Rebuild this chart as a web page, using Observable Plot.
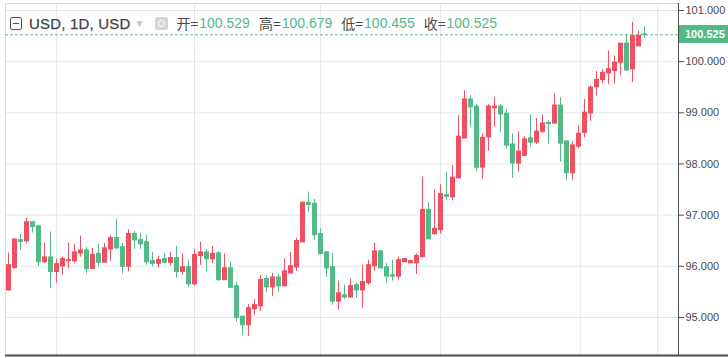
<!DOCTYPE html>
<html>
<head>
<meta charset="utf-8">
<script src="https://cdn.jsdelivr.net/npm/d3@7"></script>
<script src="https://cdn.jsdelivr.net/npm/@observablehq/plot@0.6"></script>
<style>
  html, body { margin: 0; padding: 0; background: #fff; }
  #wrap { position: relative; width: 728px; height: 358px; overflow: hidden; }
  #legend { position: absolute; left: 10px; top: 14px; height: 18px; display: flex; align-items: center;
    font-family: "Liberation Sans", Arial, sans-serif; font-size: 14px; color: #4a4a4a; white-space: nowrap; }
  #legend .box { display: inline-block; width: 10px; height: 11px; border: 1px solid #555; border-radius: 2px; position: relative; }
  #legend .box::after { content: ""; position: absolute; left: 2px; right: 2px; top: 5px; height: 1px; background: #555; }
  #legend .ttl { font-size: 15px; color: #3f3f3f; margin-left: 7px; letter-spacing: 0.2px; -webkit-text-stroke: 0.25px #3f3f3f; }
  #legend .tri { color: #c8c8c8; font-size: 10px; margin-left: 4px; }
  #legend .cam { display: inline-block; width: 13px; height: 13px; background: #d6d6d6; border-radius: 2px; margin-left: 10px; position: relative; }
  #legend .cam::after { content: ""; position: absolute; left: 3px; top: 3px; width: 5px; height: 5px; border: 1px solid #fff; border-radius: 50%; }
  #legend .lab { margin-left: 9px; font-family: "Noto Sans CJK SC", sans-serif; font-size: 14px; color: #4a4a4a; }
  #legend .val { color: #53b987; margin-left: 1px; }
  #tag { position: absolute; left: 679px; width: 49px; height: 18px; background: #53b987; color: #fff;
    font-family: "Liberation Sans", Arial, sans-serif; font-weight: bold; font-size: 11px; line-height: 18px; text-indent: 6px; }
</style>
</head>
<body>
<div id="wrap"></div>
<script>
// Daily candles (index = trading day)
const opens = [95.53,95.97,96.51,96.49,96.86,96.78,96.08,96.17,95.89,96.00,96.10,96.10,96.25,96.31,95.95,96.24,96.07,96.33,96.55,96.37,
  95.99,96.63,96.51,96.47,96.10,96.05,96.14,96.07,96.16,95.89,95.98,95.65,96.20,96.27,96.14,96.25,95.73,95.96,95.61,95.01,
  94.85,95.16,95.22,95.75,95.59,95.78,95.61,95.86,95.98,96.47,97.24,97.22,96.63,96.27,95.98,95.31,95.43,95.39,95.63,95.53,
  95.67,96.00,96.29,95.98,95.82,95.80,96.08,96.06,96.06,96.18,97.10,96.63,96.71,97.39,97.35,97.72,98.50,99.26,99.12,97.93,
  98.52,99.09,99.12,98.98,98.38,98.01,98.16,98.50,98.42,98.63,98.80,98.79,99.14,98.44,97.82,98.34,98.61,98.99,99.50,99.64,
  99.77,99.82,99.98,100.35,99.85,100.30,100.529];
const highs = [96.26,96.54,96.63,96.94,96.86,96.80,96.45,96.67,96.14,96.18,96.45,96.43,96.59,96.37,96.35,96.43,96.45,96.59,96.92,96.45,
  96.71,96.69,96.65,96.61,96.27,96.20,96.25,96.27,96.39,96.24,96.12,96.33,96.47,96.33,96.39,96.29,96.24,96.08,95.69,95.03,
  95.25,95.35,95.82,95.81,95.86,95.84,96.14,96.27,96.55,97.25,97.45,97.31,96.73,96.29,96.25,95.71,95.63,95.75,95.67,96.02,
  96.12,96.45,96.31,96.06,96.12,96.18,96.14,96.10,96.24,97.74,97.24,97.49,97.59,97.83,97.97,98.94,99.43,99.34,99.17,98.59,
  99.16,99.30,99.16,99.07,98.59,98.63,98.53,98.96,98.89,98.96,98.85,99.37,99.30,98.44,98.44,98.75,99.26,99.53,99.81,99.85,
  100.21,100.11,100.35,100.53,100.77,100.60,100.679];
const lows = [95.51,95.94,96.31,96.44,96.65,95.99,96.06,95.56,95.67,95.83,95.95,96.05,96.18,95.85,95.95,95.99,96.07,96.10,96.33,95.85,
  95.89,96.33,96.33,96.02,95.99,95.97,96.05,96.01,95.77,95.83,95.58,95.61,96.02,95.89,96.05,95.71,95.73,95.58,94.91,94.65,
  94.63,95.04,95.12,95.49,95.41,95.49,95.61,95.86,95.90,96.47,97.06,96.51,96.24,95.78,95.24,95.14,95.35,95.39,95.37,95.18,
  95.63,95.90,95.96,95.67,95.71,95.73,96.08,96.06,95.84,96.16,96.53,96.61,96.63,97.28,97.28,97.72,98.50,98.72,97.85,97.70,
  98.25,98.72,98.62,98.29,97.72,97.84,98.15,98.33,98.38,98.60,98.39,98.79,98.03,97.68,97.68,98.30,98.51,98.83,99.33,99.57,
  99.55,99.56,99.72,99.83,99.59,100.30,100.455];
const closes = [96.02,96.52,96.48,96.86,96.77,96.08,96.17,95.89,96.04,96.14,96.12,96.27,96.31,95.95,96.22,96.07,96.35,96.55,96.35,95.99,
  96.63,96.51,96.43,96.08,96.05,96.12,96.07,96.16,95.89,95.98,95.65,96.22,96.27,96.14,96.24,95.73,95.96,95.58,94.99,94.85,
  95.18,95.24,95.73,95.59,95.78,95.61,95.90,96.00,96.49,97.24,97.20,96.61,96.24,95.96,95.31,95.47,95.39,95.61,95.53,95.69,
  96.02,96.29,95.96,95.80,95.80,96.12,96.14,96.10,96.20,97.10,96.53,96.73,97.41,97.36,97.73,98.53,99.26,99.11,97.93,98.51,
  99.12,99.12,98.97,98.36,98.01,98.24,98.48,98.42,98.63,98.79,98.78,99.14,98.40,97.82,98.36,98.59,99.00,99.49,99.64,99.78,
  99.85,99.98,100.35,99.83,100.50,100.50,100.525];
// Vertical grid positions (trading-day index) and price ticks
const gridDays = [8, 31, 52, 72, 95.3, 108.2];
const priceTicks = [95, 96, 97, 98, 99, 100, 101];
const legendTitle = "USD, 1D, USD";
const legendLabels = ["开", "高", "低", "收"];

const UP = "#ef5061", DOWN = "#53b987";
const candles = opens.map((o, i) => ({ i, open: o, high: highs[i], low: lows[i], close: closes[i] }));
const last = candles[candles.length - 1];
const lastVals = [last.open, last.high, last.low, last.close];
const col = d => d.close >= d.open ? UP : DOWN;

const W = 728, H = 358, mL = 5, mR = 50, mT = 3, mB = 3;
const xDomain = [-0.5, 111.667];
const yDomain = [94.256, 101.137];
const pxPerDay = (W - mL - mR) / (xDomain[1] - xDomain[0]);
const xBeyond = xDomain[1] + mR / pxPerDay;

const chart = Plot.plot({
  width: W, height: H, marginLeft: mL, marginRight: mR, marginTop: mT, marginBottom: mB,
  x: { domain: xDomain, axis: null },
  y: { domain: yDomain, axis: null },
  style: { fontFamily: "Liberation Sans, Arial, sans-serif", fontSize: "11px", color: "#4a4a4a", background: "#fff" },
  marks: [
    Plot.gridY(priceTicks, { stroke: "#e3e8ec", strokeOpacity: 1 }),
    Plot.gridX(gridDays, { stroke: "#e3e8ec", strokeOpacity: 1 }),
    Plot.frame({ stroke: "#d5dbe0" }),
    Plot.ruleX(candles, { x: "i", y1: "low", y2: "high", stroke: col, strokeWidth: 1 }),
    Plot.ruleX(candles, { x: "i", y1: d => Math.min(d.open, d.close) - 0.012, y2: d => Math.max(d.open, d.close) + 0.012, stroke: col, strokeWidth: 5 }),
    Plot.ruleY([last.close], { stroke: DOWN, strokeDasharray: "3,2", strokeWidth: 1 }),
    Plot.ruleX([xDomain[1]], { stroke: "#4d4d4d", strokeWidth: 1 }),
    Plot.ruleY([yDomain[0]], { x1: xDomain[0], x2: xBeyond, stroke: "#4d4d4d", strokeWidth: 2 }),
    Plot.axisY(priceTicks, { anchor: "right", tickSize: 5, tickPadding: 2, tickFormat: d => d.toFixed(3), stroke: "#4d4d4d", fill: "#4a4a4a", fontSize: 11 })
  ]
});

const wrap = document.getElementById("wrap");
wrap.appendChild(chart);

// Legend overlay
const lg = document.createElement("div");
lg.id = "legend";
let html = `<span class="box"></span><span class="ttl">${legendTitle}</span><span class="tri">▼</span><span class="cam"></span>`;
legendLabels.forEach((l, k) => {
  html += `<span class="lab">${l}=</span><span class="val">${lastVals[k].toFixed(3)}</span>`;
});
lg.innerHTML = html;
wrap.appendChild(lg);

// Last price tag
const tag = document.createElement("div");
tag.id = "tag";
tag.textContent = last.close.toFixed(3);
tag.style.top = (chart.scale("y").apply(last.close) - 9) + "px";
wrap.appendChild(tag);
</script>
</body>
</html>
